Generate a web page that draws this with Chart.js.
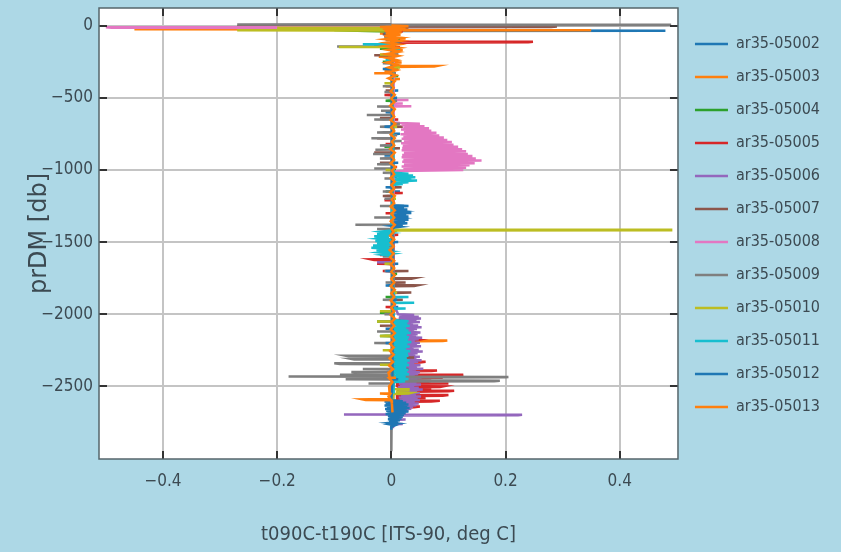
<!DOCTYPE html>
<html>
<head>
<meta charset="utf-8">
<script src="https://cdn.jsdelivr.net/npm/chart.js@4.4.1/dist/chart.umd.min.js"></script>
<style>
  html, body { margin: 0; padding: 0; background: #add8e6; }
  canvas { display: block; }
</style>
</head>
<body>
<canvas id="profile-chart" width="841" height="552"></canvas>
<script>
// casts: [pressure (db), t090C - t190C (deg C)]
const s05002 = [[0,0.003],[8,0.003],[10,0.02],[12,0.003],[33,0.004],[35,0.48],[37,0.004],[68,0.003],[70,-0.012],[72,0.003],[98,0.003],[100,0.01],[102,0.003],[138,0.003],[140,-0.03],[142,0.003],[198,0.003],[200,0.012],[202,0.003],[448,0.003],[450,0.012],[452,0.003],[598,0.003],[600,-0.01],[602,0.003],[748,0.003],[750,0.015],[752,0.003],[898,0.003],[900,-0.012],[902,0.003],[1048,0.003],[1050,0.01],[1052,0.003],[1148,0.003],[1150,0.015],[1152,0.003],[1248,0.003],[1250,0.022],[1252,0.003],[1278,0.003],[1280,0.018],[1282,0.003],[1328,0.003],[1330,0.026],[1332,0.003],[1368,0.003],[1370,0.02],[1372,0.003],[1498,0.003],[1500,-0.01],[1502,0.003],[1648,0.003],[1650,0.012],[1652,0.003],[1798,0.003],[1800,-0.01],[1802,0.003],[1948,0.003],[1950,0.012],[1952,0.003],[2098,0.003],[2100,-0.01],[2102,0.003],[2248,0.003],[2250,0.012],[2252,0.003],[2398,0.003],[2400,-0.008],[2402,0.003],[2598,0.003],[2600,0.02],[2604,-0.012],[2608,0.025],[2612,0.0],[2680,0.003]];
const s05003 = [[0,0.0],[6,0.0],[8,-0.02],[10,0.001],[14,0.0],[16,0.03],[18,0.002],[23,0.002],[25,-0.45],[27,0.005],[30,0.005],[32,0.35],[34,0.004],[53,0.002],[55,-0.02],[57,0.002],[88,0.002],[90,0.025],[92,0.002],[128,0.002],[130,-0.018],[132,0.002],[168,0.002],[170,0.02],[172,0.002],[213,0.002],[215,-0.022],[217,0.002],[253,0.002],[255,0.018],[257,0.002],[278,0.002],[280,0.08],[284,0.075],[286,0.002],[313,0.002],[315,-0.012],[317,0.002],[328,0.002],[330,-0.03],[332,0.002],[368,0.002],[370,0.015],[372,0.002],[418,0.002],[420,-0.01],[422,0.002],[1100,0.003],[2048,0.003],[2050,0.02],[2052,0.003],[2138,0.003],[2140,0.03],[2142,0.003],[2180,0.003],[2182,0.098],[2186,0.09],[2188,0.003],[2223,0.003],[2225,0.035],[2227,0.003],[2298,0.003],[2300,0.012],[2302,0.003],[2620,0.003]];
const s05004 = [[0,0.0],[8,0.0],[10,-0.06],[12,0.0],[28,0.0],[30,-0.1],[36,-0.06],[40,0.002],[88,0.002],[90,0.015],[92,0.002],[158,0.002],[160,-0.02],[162,0.002],[248,0.002],[250,-0.015],[252,0.002],[348,0.002],[350,0.012],[352,0.002],[518,0.002],[520,-0.01],[522,0.002],[678,0.002],[680,0.01],[682,0.002],[838,0.002],[840,-0.012],[842,0.002],[998,0.002],[1000,0.008],[1002,0.002],[1148,0.002],[1150,-0.01],[1152,0.002],[1418,0.002],[1420,0.01],[1422,0.002],[1558,0.002],[1560,-0.012],[1562,0.002],[1718,0.002],[1720,0.01],[1722,0.002],[1878,0.002],[1880,-0.01],[1882,0.002],[1988,0.002],[1990,-0.02],[1992,0.002],[2048,0.002],[2050,-0.025],[2052,0.002],[2148,0.002],[2150,-0.02],[2152,0.002],[2248,0.002],[2250,0.015],[2252,0.002],[2500,0.003]];
const s05005 = [[0,0.0],[38,0.002],[40,0.02],[42,0.002],[78,0.002],[80,-0.012],[82,0.002],[110,0.002],[112,0.248],[116,0.24],[118,0.003],[148,0.002],[150,0.015],[152,0.002],[198,0.002],[200,-0.015],[202,0.002],[478,0.002],[480,-0.012],[482,0.002],[648,0.002],[650,0.012],[652,0.002],[818,0.002],[820,-0.01],[822,0.002],[978,0.002],[980,0.01],[982,0.002],[1158,0.002],[1160,0.02],[1162,0.002],[1208,0.002],[1210,-0.012],[1212,0.002],[1298,0.002],[1300,-0.01],[1302,0.002],[1448,0.002],[1450,0.012],[1452,0.002],[1588,0.001],[1590,-0.02],[1592,0.0],[1618,0.0],[1620,-0.035],[1624,-0.03],[1626,0.0],[1648,0.0],[1650,-0.025],[1652,0.001],[1698,0.001],[1700,-0.015],[1702,0.002],[1798,0.002],[1800,0.01],[1802,0.002],[1948,0.002],[1950,-0.01],[1952,0.002],[2038,0.004],[2040,0.025],[2042,0.004],[2098,0.004],[2100,0.03],[2102,0.005],[2178,0.005],[2180,0.045],[2184,0.04],[2186,0.005],[2258,0.005],[2260,0.04],[2262,0.006],[2328,0.006],[2330,0.06],[2334,0.05],[2336,0.008],[2348,0.008],[2350,0.05],[2352,0.008],[2388,0.008],[2390,0.08],[2394,0.07],[2396,0.01],[2418,0.01],[2420,0.126],[2424,0.12],[2428,0.01],[2438,0.01],[2440,0.09],[2442,0.01],[2458,0.01],[2460,0.07],[2464,0.06],[2466,0.01],[2478,0.01],[2480,0.1],[2482,0.01],[2498,0.01],[2500,0.09],[2504,0.085],[2508,0.012],[2518,0.012],[2520,0.07],[2522,0.012],[2528,0.012],[2530,0.11],[2534,0.1],[2538,0.012],[2558,0.012],[2560,0.1],[2564,0.09],[2568,0.01],[2578,0.01],[2580,0.06],[2582,0.01],[2598,0.01],[2600,0.085],[2604,0.07],[2608,0.008],[2638,0.008],[2640,0.05],[2644,0.04],[2648,0.004],[2690,0.003]];
const s05006 = [[0,0.002],[1500,0.002],[1558,0.002],[1560,-0.02],[1562,0.002],[1638,0.002],[1640,-0.025],[1642,0.002],[1950,0.006],[2000,0.012],[2006,0.04],[2012,0.014],[2018,0.048],[2024,0.013],[2030,0.052],[2036,0.016],[2042,0.044],[2048,0.012],[2054,0.05],[2060,0.015],[2066,0.038],[2072,0.012],[2078,0.047],[2084,0.016],[2090,0.053],[2096,0.013],[2102,0.045],[2108,0.015],[2114,0.04],[2120,0.012],[2126,0.051],[2132,0.017],[2138,0.046],[2144,0.013],[2150,0.043],[2156,0.015],[2162,0.054],[2168,0.012],[2174,0.048],[2180,0.016],[2186,0.041],[2192,0.013],[2198,0.05],[2204,0.015],[2210,0.045],[2216,0.012],[2222,0.052],[2228,0.016],[2234,0.039],[2240,0.013],[2246,0.048],[2252,0.015],[2258,0.055],[2264,0.012],[2270,0.046],[2276,0.017],[2282,0.042],[2288,0.013],[2294,0.05],[2300,0.015],[2306,0.044],[2312,0.012],[2318,0.053],[2324,0.016],[2330,0.047],[2336,0.013],[2342,0.04],[2348,0.015],[2354,0.051],[2360,0.012],[2366,0.045],[2372,0.017],[2378,0.056],[2384,0.013],[2390,0.043],[2396,0.015],[2402,0.05],[2408,0.012],[2414,0.047],[2420,0.016],[2426,0.041],[2432,0.013],[2438,0.053],[2444,0.015],[2450,0.046],[2456,0.012],[2462,0.05],[2468,0.017],[2474,0.044],[2480,0.013],[2486,0.052],[2492,0.015],[2498,0.04],[2504,0.012],[2510,0.048],[2516,0.016],[2522,0.055],[2528,0.013],[2534,0.045],[2540,0.015],[2546,0.05],[2552,0.012],[2558,0.043],[2564,0.017],[2570,0.052],[2576,0.013],[2582,0.046],[2588,0.015],[2594,0.05],[2600,0.012],[2606,0.041],[2612,0.016],[2618,0.048],[2624,0.013],[2630,0.044],[2636,0.015],[2642,0.038],[2648,0.01],[2654,0.035],[2660,0.008],[2666,0.03],[2672,0.006],[2678,0.025],[2684,0.004],[2693,0.003],[2695,-0.083],[2697,0.229],[2699,0.222],[2701,0.003],[2728,0.003],[2730,0.025],[2732,0.003],[2758,0.003],[2760,0.02],[2762,0.003],[2790,0.003]];
const s05007 = [[0,0.0],[3,0.0],[5,-0.27],[7,0.29],[9,0.28],[11,0.003],[58,0.003],[60,-0.015],[62,0.003],[108,0.003],[110,0.018],[112,0.003],[203,0.003],[205,-0.03],[207,0.003],[298,0.003],[300,0.012],[302,0.003],[448,0.003],[450,-0.01],[452,0.003],[638,0.003],[640,-0.02],[642,0.003],[698,0.003],[700,0.02],[702,0.003],[778,0.003],[780,-0.025],[782,0.003],[848,0.003],[850,0.015],[852,0.003],[878,0.003],[880,-0.03],[882,0.003],[948,0.003],[950,-0.02],[952,0.003],[1118,0.003],[1120,0.018],[1122,0.003],[1178,0.003],[1180,-0.015],[1182,0.003],[1698,0.004],[1700,0.03],[1702,0.004],[1748,0.004],[1750,0.04],[1754,0.035],[1756,0.004],[1778,0.004],[1780,0.025],[1782,0.004],[1798,0.004],[1800,0.045],[1804,0.04],[1806,0.004],[1848,0.004],[1850,0.035],[1852,0.004],[1898,0.004],[1900,0.02],[1902,0.004],[2078,0.003],[2080,-0.02],[2082,0.003],[2198,0.003],[2200,0.015],[2202,0.003],[2298,0.004],[2300,0.04],[2302,0.004],[2378,0.004],[2380,0.03],[2382,0.004],[2500,0.004]];
const s05008 = [[0,0.0],[4,0.0],[6,-0.01],[10,0.0],[12,-0.5],[14,-0.49],[16,0.003],[513,0.004],[515,0.03],[517,0.004],[538,0.004],[540,0.02],[542,0.004],[556,0.004],[558,0.035],[560,0.004],[672,0.004],[675,0.015],[680,0.05],[688,0.018],[697,0.058],[704,0.021],[711,0.066],[720,0.017],[729,0.07],[736,0.022],[743,0.079],[752,0.016],[761,0.084],[768,0.021],[775,0.092],[784,0.018],[793,0.098],[800,0.022],[807,0.106],[816,0.017],[825,0.109],[832,0.02],[839,0.117],[848,0.019],[857,0.124],[864,0.018],[871,0.131],[880,0.022],[889,0.134],[896,0.019],[903,0.142],[912,0.018],[921,0.148],[928,0.021],[935,0.158],[944,0.019],[953,0.146],[960,0.022],[967,0.137],[976,0.018],[985,0.131],[992,0.021],[1000,0.126],[1008,0.015],[1012,0.004],[2400,0.002]];
const s05009 = [[-10,0.0],[-8,-0.27],[-6,0.49],[-4,0.48],[-2,0.001],[18,0.001],[20,-0.015],[22,0.001],[58,0.001],[60,0.012],[62,0.001],[98,0.001],[100,-0.01],[102,0.001],[143,0.001],[145,-0.095],[147,0.001],[198,0.001],[200,0.012],[202,0.001],[258,0.001],[260,-0.015],[262,0.001],[328,0.001],[330,0.008],[332,0.001],[418,0.001],[420,-0.015],[422,0.001],[458,0.001],[460,-0.012],[462,0.001],[518,0.001],[520,0.01],[522,0.001],[558,0.001],[560,-0.025],[562,0.001],[588,0.001],[590,-0.018],[592,0.001],[618,0.001],[620,-0.043],[622,0.001],[648,0.001],[650,-0.03],[652,0.001],[678,0.001],[680,0.015],[682,0.001],[698,0.001],[700,-0.02],[702,0.001],[738,0.001],[740,-0.025],[742,0.001],[758,0.001],[760,0.01],[762,0.001],[778,0.001],[780,-0.035],[782,0.001],[798,0.001],[800,0.018],[802,0.001],[828,0.001],[830,-0.02],[832,0.001],[858,0.001],[860,-0.028],[862,0.001],[888,0.001],[890,-0.032],[892,0.001],[918,0.001],[920,-0.02],[922,0.001],[958,0.001],[960,-0.025],[962,0.001],[988,0.001],[990,-0.03],[992,0.001],[1018,0.001],[1020,-0.015],[1022,0.001],[1058,0.001],[1060,-0.012],[1062,0.001],[1148,0.001],[1150,-0.015],[1152,0.001],[1198,0.001],[1200,-0.012],[1202,0.001],[1248,0.001],[1250,-0.02],[1252,0.001],[1328,0.001],[1330,-0.03],[1332,0.001],[1378,0.001],[1380,-0.063],[1382,0.001],[1408,0.001],[1410,-0.025],[1412,0.001],[1448,0.001],[1450,-0.02],[1452,0.001],[1478,0.001],[1480,-0.015],[1482,0.001],[1528,0.001],[1530,-0.02],[1532,0.001],[1598,0.001],[1600,-0.015],[1602,0.001],[1648,0.001],[1650,-0.01],[1652,0.001],[1698,0.001],[1700,-0.012],[1702,0.001],[1778,0.001],[1780,-0.01],[1782,0.001],[1898,0.001],[1900,-0.015],[1902,0.001],[1998,0.001],[2000,-0.012],[2002,0.001],[2048,0.001],[2050,-0.02],[2052,0.001],[2118,0.001],[2120,-0.025],[2122,0.001],[2198,0.001],[2200,-0.03],[2202,0.001],[2285,0.001],[2287,-0.08],[2291,-0.075],[2293,0.001],[2308,0.001],[2310,-0.07],[2314,-0.065],[2316,0.001],[2338,0.001],[2340,-0.1],[2344,-0.09],[2346,0.001],[2378,0.001],[2380,-0.05],[2382,0.001],[2398,0.001],[2400,-0.07],[2404,-0.06],[2406,0.001],[2418,0.001],[2420,-0.09],[2424,-0.08],[2426,0.001],[2430,0.001],[2432,-0.18],[2434,0.205],[2436,0.2],[2438,0.001],[2448,0.001],[2450,-0.08],[2452,0.001],[2458,0.001],[2460,0.19],[2464,0.18],[2466,0.001],[2478,0.001],[2480,-0.04],[2482,0.001],[2950,0.0]];
const s05010 = [[0,0.0],[13,0.0],[15,-0.2],[18,0.005],[30,0.005],[32,-0.27],[36,-0.06],[38,0.002],[88,0.002],[90,0.012],[92,0.002],[146,0.002],[148,-0.092],[150,0.002],[198,0.002],[200,-0.02],[202,0.002],[288,0.002],[290,0.015],[292,0.002],[398,0.002],[400,-0.012],[402,0.002],[698,0.002],[700,0.01],[702,0.002],[998,0.002],[1000,-0.01],[1002,0.002],[1198,0.002],[1200,0.008],[1202,0.002],[1412,0.002],[1414,0.49],[1418,0.49],[1420,0.002],[1648,0.002],[1650,-0.012],[1652,0.002],[1848,0.002],[1850,0.01],[1852,0.002],[1978,0.002],[1980,-0.02],[1982,0.002],[2048,0.002],[2050,-0.025],[2052,0.002],[2148,0.002],[2150,-0.02],[2152,0.002],[2248,0.002],[2250,-0.015],[2252,0.002],[2348,0.002],[2350,-0.02],[2352,0.002],[2518,0.003],[2520,0.03],[2526,0.03],[2528,0.01],[2540,0.01],[2545,0.035],[2550,0.03],[2552,0.003],[2620,0.003]];
const s05011 = [[0,0.0],[38,0.001],[40,0.012],[42,0.001],[88,0.001],[90,-0.012],[92,0.001],[128,0.001],[130,-0.05],[132,0.001],[158,0.001],[160,0.015],[162,0.001],[238,0.001],[240,-0.01],[242,0.001],[1020,0.004],[1026,0.03],[1032,0.006],[1038,0.038],[1044,0.005],[1050,0.042],[1056,0.008],[1062,0.035],[1068,0.006],[1074,0.045],[1080,0.007],[1086,0.03],[1092,0.004],[1098,0.02],[1104,0.002],[1420,0.0],[1428,-0.018],[1436,-0.002],[1444,-0.025],[1452,0.0],[1460,-0.03],[1468,-0.004],[1476,-0.022],[1484,0.0],[1492,-0.028],[1500,-0.003],[1508,-0.025],[1516,0.0],[1524,-0.032],[1532,-0.004],[1540,-0.035],[1548,0.0],[1556,-0.026],[1564,-0.003],[1572,-0.02],[1580,0.001],[1588,-0.015],[1596,0.002],[1878,0.004],[1880,0.03],[1882,0.004],[1918,0.004],[1920,0.04],[1922,0.004],[1958,0.004],[1960,0.025],[1962,0.004],[2040,0.004],[2048,0.03],[2056,0.004],[2064,0.028],[2072,0.003],[2080,0.032],[2088,0.005],[2096,0.026],[2104,0.003],[2112,0.03],[2120,0.004],[2128,0.034],[2136,0.005],[2144,0.027],[2152,0.003],[2160,0.031],[2168,0.004],[2176,0.029],[2184,0.005],[2192,0.035],[2200,0.003],[2208,0.028],[2216,0.004],[2224,0.032],[2232,0.005],[2240,0.026],[2248,0.003],[2256,0.033],[2264,0.004],[2272,0.029],[2280,0.005],[2288,0.03],[2296,0.003],[2304,0.027],[2312,0.004],[2320,0.032],[2328,0.005],[2336,0.028],[2344,0.003],[2352,0.031],[2360,0.004],[2368,0.026],[2376,0.005],[2384,0.03],[2392,0.003],[2400,0.028],[2408,0.004],[2416,0.031],[2424,0.005],[2432,0.025],[2440,0.003],[2448,0.03],[2456,0.004],[2464,0.024],[2472,0.003],[2550,0.004]];
const s05012 = [[0,0.0],[48,0.001],[50,-0.012],[52,0.001],[118,0.001],[120,0.014],[122,0.001],[298,0.001],[300,-0.015],[302,0.001],[498,0.001],[500,0.01],[502,0.001],[698,0.001],[700,-0.012],[702,0.001],[948,0.001],[950,0.012],[952,0.001],[1118,0.001],[1120,-0.01],[1122,0.001],[1244,0.003],[1250,0.03],[1256,0.005],[1262,0.022],[1268,0.004],[1274,0.028],[1280,0.006],[1286,0.02],[1292,0.004],[1298,0.035],[1304,0.006],[1310,0.026],[1316,0.004],[1322,0.03],[1328,0.005],[1334,0.018],[1340,0.004],[1346,0.03],[1352,0.006],[1358,0.024],[1364,0.004],[1370,0.028],[1376,0.005],[1382,0.02],[1388,0.003],[1394,0.015],[1400,0.002],[1498,0.002],[1500,0.012],[1502,0.002],[1698,0.002],[1700,-0.01],[1702,0.002],[1898,0.002],[1900,0.01],[1902,0.002],[2198,0.002],[2200,-0.01],[2202,0.002],[2448,0.002],[2450,0.012],[2452,0.002],[2596,0.0],[2602,0.02],[2608,-0.006],[2614,0.026],[2620,-0.01],[2626,0.03],[2632,-0.012],[2638,0.028],[2644,-0.008],[2650,0.032],[2656,-0.011],[2662,0.027],[2668,-0.009],[2674,0.03],[2680,-0.007],[2686,0.025],[2692,-0.01],[2698,0.022],[2704,-0.006],[2710,0.02],[2716,-0.005],[2722,0.018],[2728,-0.006],[2734,0.015],[2740,-0.004],[2746,0.012],[2752,-0.003],[2758,0.01],[2764,-0.002],[2770,0.006],[2780,0.0],[2800,0.0]];
const s05013 = [[0,0.0],[4,0.03],[9,-0.02],[15,0.025],[22,-0.015],[30,0.02],[38,-0.012],[46,0.018],[55,-0.01],[64,0.016],[74,-0.012],[84,0.014],[95,-0.01],[106,0.015],[118,-0.008],[130,0.012],[142,-0.01],[155,0.014],[168,-0.006],[182,0.012],[196,-0.008],[210,0.012],[225,-0.006],[240,0.01],[256,-0.008],[272,0.01],[290,-0.005],[308,0.01],[326,-0.006],[345,0.008],[365,-0.005],[385,0.006],[410,0.0],[430,0.004],[455,-0.001],[480,0.006],[505,0.0],[530,0.005],[555,-0.002],[580,0.006],[605,0.001],[630,0.005],[655,-0.001],[680,0.007],[705,0.0],[730,0.005],[755,-0.001],[780,0.006],[805,0.001],[830,0.005],[855,-0.002],[880,0.006],[905,0.0],[930,0.005],[955,-0.001],[980,0.007],[1005,0.001],[1030,0.005],[1055,-0.001],[1080,0.006],[1105,0.0],[1130,0.005],[1155,-0.002],[1180,0.006],[1205,0.001],[1230,0.005],[1255,-0.001],[1280,0.006],[1305,0.0],[1330,0.005],[1355,-0.001],[1380,0.006],[1405,0.0],[1430,0.004],[1455,-0.002],[1480,0.005],[1505,-0.001],[1530,0.004],[1555,-0.003],[1580,0.004],[1605,-0.002],[1630,0.005],[1655,-0.001],[1680,0.005],[1705,0.0],[1730,0.006],[1755,0.0],[1780,0.005],[1805,-0.001],[1830,0.006],[1855,0.0],[1880,0.005],[1905,-0.001],[1930,0.006],[1955,0.0],[1980,0.005],[2005,-0.001],[2030,0.006],[2055,0.0],[2080,0.005],[2105,-0.001],[2130,0.006],[2155,0.0],[2180,0.005],[2205,-0.002],[2230,0.004],[2255,-0.002],[2280,0.004],[2305,-0.003],[2330,0.003],[2355,-0.004],[2380,0.003],[2405,-0.005],[2438,-0.003],[2440,0.008],[2442,-0.004],[2470,0.002],[2500,-0.004],[2548,-0.003],[2550,-0.02],[2552,-0.002],[2570,-0.005],[2588,-0.002],[2590,-0.05],[2594,-0.045],[2596,0.0],[2620,0.001],[2680,0.002]];

const castNames = ['ar35-05002','ar35-05003','ar35-05004','ar35-05005','ar35-05006','ar35-05007','ar35-05008','ar35-05009','ar35-05010','ar35-05011','ar35-05012','ar35-05013'];
const castData = [s05002, s05003, s05004, s05005, s05006, s05007, s05008, s05009, s05010, s05011, s05012, s05013];
const castColors = ['#1f77b4','#ff7f0e','#2ca02c','#d62728','#9467bd','#8c564b','#e377c2','#7f7f7f','#bcbd22','#17becf','#1f77b4','#ff7f0e'];

const xTicks = [-0.4, -0.2, 0, 0.2, 0.4];
const xTickLabels = ['\u22120.4', '\u22120.2', '0', '0.2', '0.4'];
const yTicks = [-2500, -2000, -1500, -1000, -500, 0];
const yTickLabels = ['\u22122500', '\u22122000', '\u22121500', '\u22121000', '\u2212500', '0'];

const FONT = "'DejaVu Sans Condensed', 'DejaVu Sans', sans-serif";
const TEXT = '#3c4a52';

// plot frame: white area, matlab-style box with inward ticks
const framePlugin = {
  id: 'frame',
  beforeDraw(chart) {
    const { ctx, chartArea: a } = chart;
    ctx.save();
    ctx.fillStyle = '#add8e6';
    ctx.fillRect(0, 0, chart.width, chart.height);
    ctx.fillStyle = '#ffffff';
    ctx.fillRect(a.left, a.top, a.right - a.left, a.bottom - a.top);
    ctx.restore();
  },
  afterDatasetsDraw(chart) {
    const { ctx, chartArea: a, scales: { x, y } } = chart;
    ctx.save();
    ctx.strokeStyle = '#333333';
    ctx.lineWidth = 2;
    ctx.beginPath();
    xTicks.forEach(v => {
      const px = Math.round(x.getPixelForValue(v));
      ctx.moveTo(px, a.top); ctx.lineTo(px, a.top + 8);
      ctx.moveTo(px, a.bottom); ctx.lineTo(px, a.bottom - 8);
    });
    yTicks.forEach(v => {
      const py = Math.round(y.getPixelForValue(v));
      ctx.moveTo(a.left, py); ctx.lineTo(a.left + 8, py);
      ctx.moveTo(a.right, py); ctx.lineTo(a.right - 8, py);
    });
    ctx.stroke();
    ctx.strokeStyle = '#56656b';
    ctx.lineWidth = 1.5;
    ctx.strokeRect(a.left, a.top, a.right - a.left, a.bottom - a.top);
    ctx.restore();
  }
};

const datasets = castData.map((rows, i) => ({
  label: castNames[i],
  data: rows.map(r => ({ x: r[1], y: -r[0] })),
  borderColor: castColors[i],
  backgroundColor: castColors[i],
  borderWidth: 2.5,
  pointRadius: 0,
  tension: 0,
  order: castData.length - 1 - i
}));

new Chart(document.getElementById('profile-chart'), {
  type: 'line',
  data: { datasets },
  plugins: [framePlugin],
  options: {
    responsive: false,
    animation: false,
    layout: { padding: { top: 0, right: 11, bottom: 0, left: 0 } },
    plugins: {
      tooltip: { enabled: false },
      legend: {
        position: 'right',
        align: 'start',
        title: { display: true, text: ' ', font: { size: 10 }, padding: { top: 7, bottom: 0 } },
        labels: {
          usePointStyle: true,
          pointStyle: 'line',
          pointStyleWidth: 33,
          padding: 17,
          color: TEXT,
          font: { family: FONT, size: 16 },
          sort: (a, b) => a.datasetIndex - b.datasetIndex
        }
      }
    },
    scales: {
      x: {
        type: 'linear',
        min: -0.512,
        max: 0.502,
        afterBuildTicks: s => { s.ticks = xTicks.map(v => ({ value: v })); },
        afterFit: s => { s.height = 93; },
        grid: { color: '#c4c4c4', lineWidth: 2, drawTicks: false },
        border: { display: false },
        ticks: {
          padding: 12,
          color: TEXT,
          font: { family: FONT, size: 17 },
          callback: (v, i) => xTickLabels[i]
        },
        title: {
          display: true,
          text: 't090C-t190C [ITS-90, deg C]',
          color: TEXT,
          font: { family: FONT, size: 20 },
          padding: { top: 0, bottom: 5 }
        }
      },
      y: {
        type: 'linear',
        min: -3003,
        max: 122,
        afterBuildTicks: s => { s.ticks = yTicks.map(v => ({ value: v })); },
        afterFit: s => { s.width = 99; },
        grid: { color: '#c4c4c4', lineWidth: 2, drawTicks: false },
        border: { display: false },
        ticks: {
          padding: 6,
          color: TEXT,
          font: { family: FONT, size: 17, lineHeight: '4px' },
          callback: (v, i) => yTickLabels[i]
        },
        title: {
          display: true,
          text: 'prDM [db]',
          color: TEXT,
          font: { family: "'DejaVu Sans', sans-serif", size: 24 },
          padding: { top: 25, bottom: 0 }
        }
      }
    }
  }
});
</script>
</body>
</html>
